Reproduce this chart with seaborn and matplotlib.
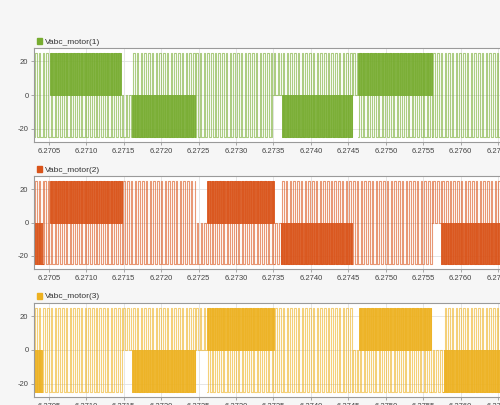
import numpy as np
import pandas as pd
import matplotlib
matplotlib.use("Agg")
import matplotlib.pyplot as plt
import seaborn as sns
from matplotlib.patches import Patch

# ---------------- data ----------------
names = ["Vabc_motor(1)", "Vabc_motor(2)", "Vabc_motor(3)"]
colors = ["#77ac30", "#d95319", "#edb120"]

# segment boundaries (time, s) and switching pattern of each phase
# F: full-range pulses (-25..+25), P: dense 0..+25 block, N: dense 0..-25 block,
# U: pulses 0..+25 only, D: pulses 0..-25 only
edges1 = [6.27030, 6.27051, 6.27146, 6.27161, 6.27245, 6.27349, 6.27361,
          6.27455, 6.27463, 6.27562, 6.27670]
modes1 = ["F", "P", "D", "N", "F", "U", "N", "U", "P", "F"]

edges2 = [6.27030, 6.27042, 6.27051, 6.27148, 6.27246, 6.27261, 6.27351,
          6.27360, 6.27455, 6.27562, 6.27574, 6.27670]
modes2 = ["N", "F", "P", "F", "D", "P", "D", "N", "F", "U", "N"]

edges3 = [6.27030, 6.27041, 6.27148, 6.27161, 6.27245, 6.27261, 6.27351,
          6.27455, 6.27464, 6.27561, 6.27577, 6.27670]
modes3 = ["N", "F", "U", "N", "U", "P", "F", "D", "P", "D", "N"]

level = 25.0           # DC level of the switched voltage
carrier = 5e-5         # PWM carrier period (s)

xticks = [6.2705, 6.2710, 6.2715, 6.2720, 6.2725, 6.2730, 6.2735,
          6.2740, 6.2745, 6.2750, 6.2755, 6.2760, 6.2765]
xticklabels = ["6.2705", "6.2710", "6.2715", "6.2720", "6.2725", "6.2730",
               "6.2735", "6.2740", "6.2745", "6.2750", "6.2755", "6.2760",
               "6.2765"]
yticks = [-20, 0, 20]
yticklabels = ["-20", "0", "20"]

panels = [(edges1, modes1), (edges2, modes2), (edges3, modes3)]


def pulse_train(a, b, lo, hi, period, duty):
    ts, vs = [], []
    t = a
    while t < b:
        on = t + period * (1 - duty) / 2
        off = on + period * duty
        for tt, vv in [(t, lo), (on, lo), (on, hi), (off, hi), (off, lo)]:
            if tt <= b:
                ts.append(tt)
                vs.append(vv)
        t += period
    return ts, vs


def build(edges, modes):
    light, dense = [], []
    for i, m in enumerate(modes):
        a, b = edges[i], edges[i + 1]
        if m in ("F", "P", "N"):
            lo, hi = -level, level
        elif m == "U":
            lo, hi = 0.0, level
        else:
            lo, hi = -level, 0.0
        ts, vs = pulse_train(a, b, lo, hi, carrier, 0.4)
        light += [(t, v, i) for t, v in zip(ts, vs)]
        if m in ("P", "N"):
            lo2, hi2 = (0.0, level) if m == "P" else (-level, 0.0)
            ts, vs = pulse_train(a, b, lo2, hi2, carrier / 3, 0.5)
            dense += [(t, v, i) for t, v in zip(ts, vs)]
    return (pd.DataFrame(light, columns=["t", "v", "seg"]),
            pd.DataFrame(dense, columns=["t", "v", "seg"]))


# ---------------- figure ----------------
sns.set_theme(style="white")
plt.rcParams["font.family"] = ["Liberation Sans", "DejaVu Sans"]

fig = plt.figure(figsize=(5.0, 4.05), dpi=100, facecolor="#f6f6f6")
W, H = 500.0, 405.0
tops = [48, 176, 303]
bots = [142, 269, 397]
left_px, right_px = 34, 510
xlim = (6.27030, 6.27666)

for k, ((edges, modes), name, col) in enumerate(zip(panels, names, colors)):
    ax = fig.add_axes([left_px / W, 1 - bots[k] / H,
                       (right_px - left_px) / W, (bots[k] - tops[k]) / H])
    ax.set_facecolor("white")
    light, dense = build(edges, modes)
    sns.lineplot(data=light, x="t", y="v", units="seg", estimator=None,
                 sort=False, color=col, lw=0.8, alpha=0.6, ax=ax,
                 legend=False)
    if len(dense):
        sns.lineplot(data=dense, x="t", y="v", units="seg", estimator=None,
                     sort=False, color=col, lw=0.7, alpha=0.92, ax=ax,
                     legend=False)
    ax.set_xlim(*xlim)
    ax.set_ylim(-27.8, 27.8)
    ax.set_xticks(xticks)
    ax.set_xticklabels(xticklabels)
    ax.set_yticks(yticks)
    ax.set_yticklabels(yticklabels)
    ax.set_xlabel("")
    ax.set_ylabel("")
    ax.grid(True, color="#e2e2e2", lw=0.6)
    ax.set_axisbelow(True)
    for s in ax.spines.values():
        s.set_color("#9a9a9a")
        s.set_linewidth(0.8)
    ax.tick_params(axis="both", labelsize=5.5, colors="#9a9a9a",
                   labelcolor="#444444", length=2, width=0.6, pad=2,
                   bottom=True, left=True)
    ax.legend(handles=[Patch(color=col, label=name)], loc="lower left",
              bbox_to_anchor=(0.0, 1.0), frameon=False, fontsize=6,
              handlelength=0.6, handleheight=0.7, handletextpad=0.45,
              borderaxespad=0.15, borderpad=0.15, labelcolor="#333333")

fig.savefig("out.png", dpi=100, facecolor=fig.get_facecolor())
